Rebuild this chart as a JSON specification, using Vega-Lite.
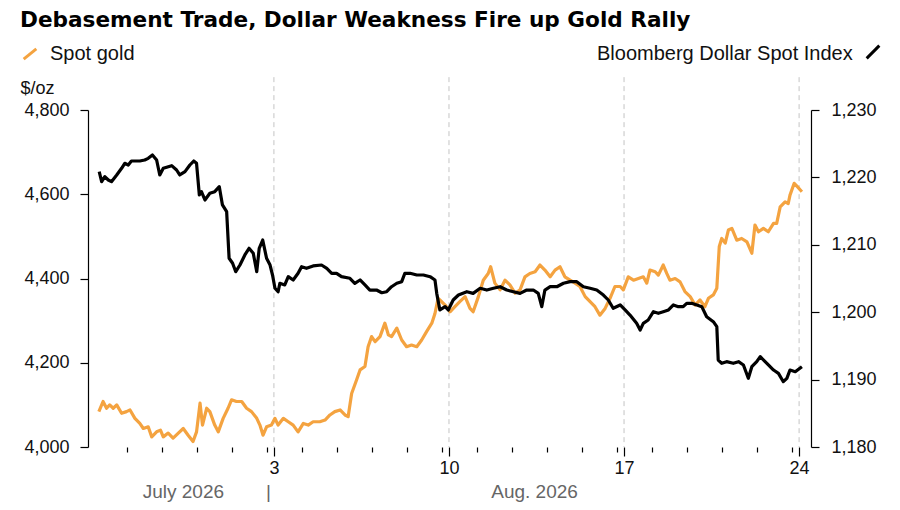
{
  "$schema": "https://vega.github.io/schema/vega-lite/v6.json",
  "width": 723,
  "height": 337,
  "autosize": {"type": "none"},
  "padding": {"left": 88, "top": 110, "right": 89, "bottom": 63},
  "background": "white",
  "config": {
    "font": "Liberation Sans",
    "view": {"stroke": null},
    "axis": {"labelFont": "Liberation Sans", "labelColor": "#111", "grid": false}
  },
  "title": {
    "text": "Debasement Trade, Dollar Weakness Fire up Gold Rally",
    "anchor": "start",
    "frame": "group",
    "dx": -68,
    "offset": 12,
    "font": "DejaVu Sans",
    "fontSize": 21.6,
    "fontWeight": "bold",
    "color": "#000"
  },
  "datasets": {
    "weeks": [{"t": 5}, {"t": 10}, {"t": 15}, {"t": 20}],
    "gold": [
      {"t":0.0,"v":4084},{"t":0.12,"v":4108},{"t":0.22,"v":4092},{"t":0.31,"v":4100},{"t":0.41,"v":4092},{"t":0.51,"v":4100},{"t":0.65,"v":4080},{"t":0.79,"v":4084},{"t":0.89,"v":4088},{"t":1.03,"v":4068},{"t":1.17,"v":4056},{"t":1.27,"v":4044},{"t":1.41,"v":4048},{"t":1.51,"v":4024},{"t":1.65,"v":4036},{"t":1.76,"v":4040},{"t":1.84,"v":4024},{"t":1.98,"v":4033},{"t":2.12,"v":4021},{"t":2.27,"v":4033},{"t":2.41,"v":4044},{"t":2.55,"v":4028},{"t":2.69,"v":4013},{"t":2.79,"v":4036},{"t":2.89,"v":4104},{"t":2.96,"v":4052},{"t":3.08,"v":4092},{"t":3.17,"v":4084},{"t":3.31,"v":4052},{"t":3.41,"v":4036},{"t":3.55,"v":4068},{"t":3.69,"v":4092},{"t":3.79,"v":4112},{"t":3.93,"v":4108},{"t":4.08,"v":4108},{"t":4.22,"v":4092},{"t":4.36,"v":4084},{"t":4.51,"v":4068},{"t":4.6,"v":4052},{"t":4.69,"v":4028},{"t":4.79,"v":4048},{"t":4.93,"v":4052},{"t":5.03,"v":4068},{"t":5.12,"v":4052},{"t":5.27,"v":4068},{"t":5.41,"v":4060},{"t":5.55,"v":4052},{"t":5.69,"v":4036},{"t":5.84,"v":4056},{"t":5.98,"v":4052},{"t":6.12,"v":4060},{"t":6.31,"v":4060},{"t":6.46,"v":4064},{"t":6.6,"v":4076},{"t":6.74,"v":4084},{"t":6.89,"v":4088},{"t":7.03,"v":4076},{"t":7.12,"v":4072},{"t":7.22,"v":4127},{"t":7.36,"v":4159},{"t":7.46,"v":4183},{"t":7.6,"v":4191},{"t":7.69,"v":4238},{"t":7.79,"v":4262},{"t":7.89,"v":4250},{"t":8.03,"v":4262},{"t":8.17,"v":4294},{"t":8.27,"v":4266},{"t":8.36,"v":4262},{"t":8.51,"v":4282},{"t":8.65,"v":4254},{"t":8.79,"v":4238},{"t":8.93,"v":4242},{"t":9.08,"v":4238},{"t":9.22,"v":4254},{"t":9.36,"v":4274},{"t":9.51,"v":4294},{"t":9.6,"v":4317},{"t":9.69,"v":4353},{"t":9.74,"v":4349},{"t":9.89,"v":4337},{"t":10.03,"v":4321},{"t":10.17,"v":4333},{"t":10.31,"v":4345},{"t":10.46,"v":4357},{"t":10.6,"v":4329},{"t":10.69,"v":4321},{"t":10.84,"v":4357},{"t":10.98,"v":4396},{"t":11.12,"v":4412},{"t":11.19,"v":4428},{"t":11.31,"v":4389},{"t":11.46,"v":4373},{"t":11.6,"v":4396},{"t":11.74,"v":4385},{"t":11.89,"v":4365},{"t":12.03,"v":4373},{"t":12.17,"v":4404},{"t":12.31,"v":4412},{"t":12.46,"v":4416},{"t":12.6,"v":4432},{"t":12.74,"v":4420},{"t":12.89,"v":4404},{"t":13.03,"v":4420},{"t":13.17,"v":4428},{"t":13.31,"v":4404},{"t":13.46,"v":4396},{"t":13.6,"v":4389},{"t":13.74,"v":4381},{"t":13.89,"v":4357},{"t":14.03,"v":4345},{"t":14.17,"v":4333},{"t":14.31,"v":4313},{"t":14.46,"v":4329},{"t":14.6,"v":4353},{"t":14.74,"v":4381},{"t":14.89,"v":4381},{"t":14.98,"v":4373},{"t":15.12,"v":4404},{"t":15.27,"v":4396},{"t":15.41,"v":4400},{"t":15.55,"v":4404},{"t":15.65,"v":4389},{"t":15.74,"v":4420},{"t":15.89,"v":4416},{"t":15.98,"v":4408},{"t":16.12,"v":4432},{"t":16.22,"v":4412},{"t":16.31,"v":4396},{"t":16.46,"v":4400},{"t":16.6,"v":4392},{"t":16.74,"v":4369},{"t":16.89,"v":4357},{"t":17.03,"v":4337},{"t":17.17,"v":4349},{"t":17.31,"v":4333},{"t":17.41,"v":4353},{"t":17.55,"v":4361},{"t":17.65,"v":4377},{"t":17.72,"v":4476},{"t":17.79,"v":4495},{"t":17.89,"v":4484},{"t":17.98,"v":4515},{"t":18.08,"v":4519},{"t":18.22,"v":4491},{"t":18.36,"v":4495},{"t":18.51,"v":4487},{"t":18.65,"v":4460},{"t":18.74,"v":4527},{"t":18.84,"v":4511},{"t":18.98,"v":4519},{"t":19.12,"v":4511},{"t":19.27,"v":4531},{"t":19.36,"v":4531},{"t":19.46,"v":4570},{"t":19.6,"v":4582},{"t":19.69,"v":4578},{"t":19.74,"v":4598},{"t":19.86,"v":4626},{"t":19.95,"v":4618},{"t":20.08,"v":4606}
    ],
    "dollar": [
      {"t":0.01,"v":1220.85},{"t":0.08,"v":1219.36},{"t":0.17,"v":1220.1},{"t":0.27,"v":1219.61},{"t":0.36,"v":1219.36},{"t":0.51,"v":1220.36},{"t":0.65,"v":1221.35},{"t":0.74,"v":1222.09},{"t":0.84,"v":1221.84},{"t":0.93,"v":1222.43},{"t":1.17,"v":1222.43},{"t":1.31,"v":1222.58},{"t":1.41,"v":1222.83},{"t":1.53,"v":1223.32},{"t":1.65,"v":1222.58},{"t":1.74,"v":1220.36},{"t":1.84,"v":1221.35},{"t":2.08,"v":1221.74},{"t":2.22,"v":1221.1},{"t":2.31,"v":1220.36},{"t":2.46,"v":1220.85},{"t":2.6,"v":1221.84},{"t":2.71,"v":1222.43},{"t":2.79,"v":1222.09},{"t":2.87,"v":1217.39},{"t":2.93,"v":1217.88},{"t":3.03,"v":1216.65},{"t":3.17,"v":1217.64},{"t":3.31,"v":1217.88},{"t":3.44,"v":1218.62},{"t":3.53,"v":1215.91},{"t":3.65,"v":1214.91},{"t":3.72,"v":1208.0},{"t":3.82,"v":1207.26},{"t":3.91,"v":1206.01},{"t":4.03,"v":1207.0},{"t":4.17,"v":1208.49},{"t":4.29,"v":1209.48},{"t":4.41,"v":1208.74},{"t":4.51,"v":1206.01},{"t":4.58,"v":1209.48},{"t":4.68,"v":1210.71},{"t":4.79,"v":1208.0},{"t":4.89,"v":1207.0},{"t":4.96,"v":1205.52},{"t":5.03,"v":1203.55},{"t":5.12,"v":1203.04},{"t":5.17,"v":1204.29},{"t":5.31,"v":1204.04},{"t":5.41,"v":1205.27},{"t":5.55,"v":1204.78},{"t":5.69,"v":1205.77},{"t":5.79,"v":1206.75},{"t":5.93,"v":1206.51},{"t":6.12,"v":1206.86},{"t":6.36,"v":1207.0},{"t":6.51,"v":1206.51},{"t":6.65,"v":1205.77},{"t":6.79,"v":1205.77},{"t":6.93,"v":1205.27},{"t":7.17,"v":1205.03},{"t":7.31,"v":1204.29},{"t":7.46,"v":1204.78},{"t":7.6,"v":1204.04},{"t":7.74,"v":1203.29},{"t":7.93,"v":1203.29},{"t":8.08,"v":1202.89},{"t":8.22,"v":1203.04},{"t":8.36,"v":1203.78},{"t":8.51,"v":1204.29},{"t":8.65,"v":1204.53},{"t":8.74,"v":1205.77},{"t":8.89,"v":1205.77},{"t":9.08,"v":1205.52},{"t":9.27,"v":1205.52},{"t":9.46,"v":1205.27},{"t":9.6,"v":1204.78},{"t":9.65,"v":1202.8},{"t":9.74,"v":1200.33},{"t":9.89,"v":1200.82},{"t":9.98,"v":1200.33},{"t":10.12,"v":1201.81},{"t":10.27,"v":1202.55},{"t":10.51,"v":1203.04},{"t":10.69,"v":1202.8},{"t":10.89,"v":1203.55},{"t":11.08,"v":1203.29},{"t":11.27,"v":1203.55},{"t":11.46,"v":1203.78},{"t":11.65,"v":1203.29},{"t":11.84,"v":1203.04},{"t":12.03,"v":1202.8},{"t":12.22,"v":1203.29},{"t":12.41,"v":1203.29},{"t":12.55,"v":1202.8},{"t":12.65,"v":1200.82},{"t":12.74,"v":1203.29},{"t":12.89,"v":1203.78},{"t":13.08,"v":1203.78},{"t":13.27,"v":1204.29},{"t":13.46,"v":1204.53},{"t":13.65,"v":1204.53},{"t":13.84,"v":1203.78},{"t":14.03,"v":1203.55},{"t":14.22,"v":1203.29},{"t":14.41,"v":1202.55},{"t":14.55,"v":1201.81},{"t":14.69,"v":1200.58},{"t":14.89,"v":1201.07},{"t":15.03,"v":1200.33},{"t":15.17,"v":1199.58},{"t":15.36,"v":1198.35},{"t":15.46,"v":1197.36},{"t":15.55,"v":1198.35},{"t":15.69,"v":1198.84},{"t":15.84,"v":1200.07},{"t":15.98,"v":1199.84},{"t":16.12,"v":1200.07},{"t":16.27,"v":1200.33},{"t":16.41,"v":1201.07},{"t":16.55,"v":1200.82},{"t":16.69,"v":1200.82},{"t":16.79,"v":1201.32},{"t":16.93,"v":1201.32},{"t":17.08,"v":1201.07},{"t":17.22,"v":1200.82},{"t":17.36,"v":1199.33},{"t":17.55,"v":1198.59},{"t":17.65,"v":1197.85},{"t":17.69,"v":1192.91},{"t":17.79,"v":1192.42},{"t":17.93,"v":1192.66},{"t":18.12,"v":1192.42},{"t":18.27,"v":1192.66},{"t":18.41,"v":1192.17},{"t":18.55,"v":1190.19},{"t":18.65,"v":1191.91},{"t":18.79,"v":1192.66},{"t":18.89,"v":1193.4},{"t":19.08,"v":1192.42},{"t":19.27,"v":1191.42},{"t":19.41,"v":1190.93},{"t":19.55,"v":1189.69},{"t":19.65,"v":1190.19},{"t":19.74,"v":1191.42},{"t":19.89,"v":1191.17},{"t":20.08,"v":1191.91}
    ]
  },
  "layer": [
    {
      "data": {"name": "weeks"},
      "mark": {"type": "rule", "color": "#c4c4c4", "strokeDash": [5, 4], "strokeWidth": 1},
      "encoding": {
        "x": {
          "field": "t",
          "type": "quantitative",
          "scale": {"domain": [-0.31, 20.34], "nice": false, "zero": false},
          "axis": {
            "orient": "bottom",
            "values": [5, 10, 15, 20],
            "labelExpr": "datum.value == 5 ? '3' : datum.value == 10 ? '10' : datum.value == 15 ? '17' : '24'",
            "domain": false,
            "tickSize": 9,
            "tickColor": "#000",
            "tickWidth": 1.2,
            "labelFontSize": 18,
            "labelPadding": 3,
            "title": null
          }
        },
        "y": {"datum": 4878, "type": "quantitative", "scale": {"domain": [4000, 4800], "nice": false, "zero": false}, "axis": null},
        "y2": {"datum": 4000}
      }
    },
    {
      "data": {"name": "gold"},
      "mark": {"type": "line", "strokeWidth": 3.2, "strokeJoin": "round"},
      "encoding": {
        "x": {
          "field": "t",
          "type": "quantitative",
          "scale": {"domain": [-0.31, 20.34], "nice": false, "zero": false},
          "axis": {
            "orient": "bottom",
            "values": [0.8, 1.8, 2.8, 3.8, 4.8, 5.8, 6.8, 7.8, 8.8, 9.8, 10.8, 11.8, 12.8, 13.8, 14.8, 15.8, 16.8, 17.8, 18.8, 19.8],
            "labels": false,
            "domain": false,
            "tickSize": 5,
            "tickColor": "#000",
            "tickWidth": 1.2,
            "title": null
          }
        },
        "y": {
          "field": "v",
          "type": "quantitative",
          "scale": {"domain": [4000, 4800], "nice": false, "zero": false},
          "axis": {
            "orient": "left",
            "values": [4000, 4200, 4400, 4600, 4800],
            "labelExpr": "format(datum.value, ',.0f')",
            "domainColor": "#000",
            "domainWidth": 1.2,
            "tickColor": "#000",
            "tickWidth": 1.2,
            "tickSize": 8,
            "labelFontSize": 18,
            "labelPadding": 11,
            "title": "$/oz",
            "titleAngle": 0,
            "titleAlign": "left",
            "titleBaseline": "middle",
            "titleX": -68,
            "titleY": -22,
            "titleFontSize": 18,
            "titleFontWeight": "normal",
            "titleColor": "#111"
          }
        },
        "color": {
          "datum": "Spot gold",
          "type": "nominal",
          "scale": {"range": ["#f4a340"]},
          "legend": {
            "orient": "none",
            "legendX": -68,
            "legendY": -66,
            "title": null,
            "padding": 0,
            "symbolType": "M-1,0.8L1,-0.8",
            "symbolSize": 160,
            "symbolStrokeWidth": 3,
            "labelFontSize": 20,
            "labelColor": "#111",
            "labelOffset": 10
          }
        }
      }
    },
    {
      "data": {"name": "dollar"},
      "mark": {"type": "line", "strokeWidth": 3.2, "strokeJoin": "round"},
      "encoding": {
        "x": {
          "field": "t",
          "type": "quantitative",
          "scale": {"domain": [-0.31, 20.34], "nice": false, "zero": false},
          "axis": {
            "orient": "bottom",
            "values": [2.4, 4.83, 12.43],
            "labelExpr": "datum.value < 3 ? 'July 2026' : datum.value < 5 ? '|' : 'Aug. 2026'",
            "domain": false,
            "ticks": false,
            "labelFontSize": 19,
            "labelColor": "#666",
            "labelPadding": 35,
            "title": null
          }
        },
        "y": {
          "field": "v",
          "type": "quantitative",
          "scale": {"domain": [1180, 1230], "nice": false, "zero": false},
          "axis": {
            "orient": "right",
            "values": [1180, 1190, 1200, 1210, 1220, 1230],
            "labelExpr": "format(datum.value, ',.0f')",
            "domainColor": "#000",
            "domainWidth": 1.2,
            "tickColor": "#000",
            "tickWidth": 1.2,
            "tickSize": 8,
            "labelFontSize": 18,
            "labelPadding": 12,
            "title": null
          }
        },
        "color": {
          "datum": "Bloomberg Dollar Spot Index",
          "type": "nominal",
          "scale": {"range": ["#000000"]},
          "legend": {
            "orient": "none",
            "legendX": 509,
            "legendY": -66,
            "title": "Bloomberg Dollar Spot Index",
            "titleOrient": "left",
            "titleLimit": 400,
            "titleFontSize": 20,
            "titleFontWeight": "normal",
            "titleColor": "#111",
            "titlePadding": 12,
            "padding": 0,
            "symbolType": "M-1,1L1,-1",
            "symbolSize": 160,
            "symbolStrokeWidth": 3,
            "labelExpr": "''"
          }
        }
      }
    }
  ],
  "resolve": {
    "scale": {"y": "independent", "color": "independent"},
    "axis": {"x": "independent", "y": "independent"},
    "legend": {"color": "independent"}
  }
}
